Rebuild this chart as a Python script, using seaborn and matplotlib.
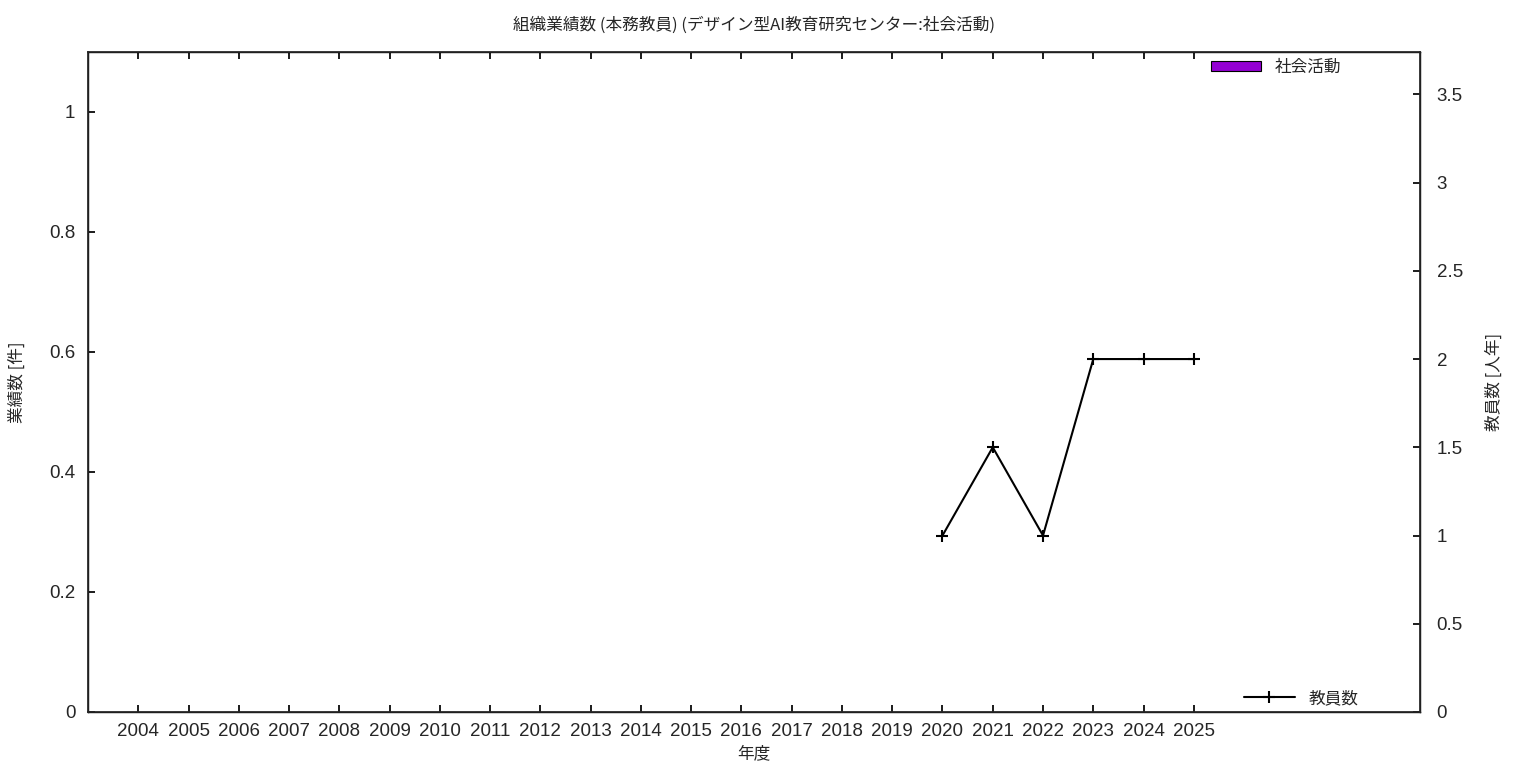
import numpy as np
import pandas as pd
import matplotlib
matplotlib.use("Agg")
import matplotlib.pyplot as plt
import seaborn as sns

# data
years = list(range(2004, 2026))
activity = [0] * len(years)  # 社会活動 (all zero)
staff_years = [2020, 2021, 2022, 2023, 2024, 2025]
staff = [1, 1.5, 1, 2, 2, 2]  # 教員数

sns.set_theme(style="white")
plt.rcParams['font.family'] = ['Noto Sans CJK JP', 'DejaVu Sans']
num_font = ['Liberation Sans', 'DejaVu Sans']

df = pd.DataFrame({"year": [str(y) for y in years], "count": activity})
pos = [years.index(y) for y in staff_years]
dfs = pd.DataFrame({"pos": pos, "staff": staff})

fig = plt.figure(figsize=(15.36, 7.68), dpi=100)
ax = fig.add_axes([88/1536, 56/768, (1420-88)/1536, (712-52)/768])

sns.barplot(data=df, x="year", y="count", color="#9400d3", ax=ax,
            edgecolor="black", linewidth=0.8, width=0.6, label="社会活動",
            saturation=1)
ax.set_xlim(-1, 25.5)
ax.set_ylim(0, 1.1)
ax.set_yticks([0, 0.2, 0.4, 0.6, 0.8, 1])
ax.set_yticklabels(["0", "0.2", "0.4", "0.6", "0.8", "1"])
ax.set_xlabel("年度", fontsize=12)
ax.set_ylabel("業績数 [件]", fontsize=12, labelpad=17)
ax.tick_params(axis="x", direction="in", length=5, top=True, bottom=True,
               labelsize=13.5, pad=8, color="black")
ax.tick_params(axis="y", direction="in", length=5, left=True, right=False,
               labelsize=13.5, pad=9, color="black")
for lab in ax.get_xticklabels() + ax.get_yticklabels():
    lab.set_family(num_font)
for s in ax.spines.values():
    s.set_color("black")
    s.set_linewidth(1)

ax2 = ax.twinx()
sns.lineplot(data=dfs, x="pos", y="staff", ax=ax2, color="black",
             marker="+", markersize=8, markeredgewidth=1.5,
             markeredgecolor="black", linewidth=1.5,
             label="教員数", legend=False)
ax2.set_xlim(-1, 25.5)
ax2.set_ylim(0, 1.1 * 3.4)
ax2.set_yticks([0, 0.5, 1, 1.5, 2, 2.5, 3, 3.5])
ax2.set_yticklabels(["0", "0.5", "1", "1.5", "2", "2.5", "3", "3.5"])
ax2.set_ylabel("教員数 [人年]", fontsize=12, labelpad=16)
ax2.set_xlabel("")
ax2.tick_params(axis="y", direction="in", length=5, right=True,
                labelsize=13.5, pad=12, color="black")
for lab in ax2.get_yticklabels():
    lab.set_family(num_font)

ax.set_title("組織業績数 (本務教員) (デザイン型AI教育研究センター:社会活動)",
             fontsize=12, pad=16)

h1, l1 = ax.get_legend_handles_labels()
ax.legend(h1[:1], l1[:1], loc="upper right", frameon=False,
          fontsize=12, bbox_to_anchor=(0.952, 1.012), handlelength=3.0,
          handleheight=0.5)
h2, l2 = ax2.get_legend_handles_labels()
ax2.legend(h2, l2, loc="lower right", frameon=False, fontsize=12,
           bbox_to_anchor=(0.965, -0.015), handlelength=3.1)

fig.savefig("out.png", dpi=100)
